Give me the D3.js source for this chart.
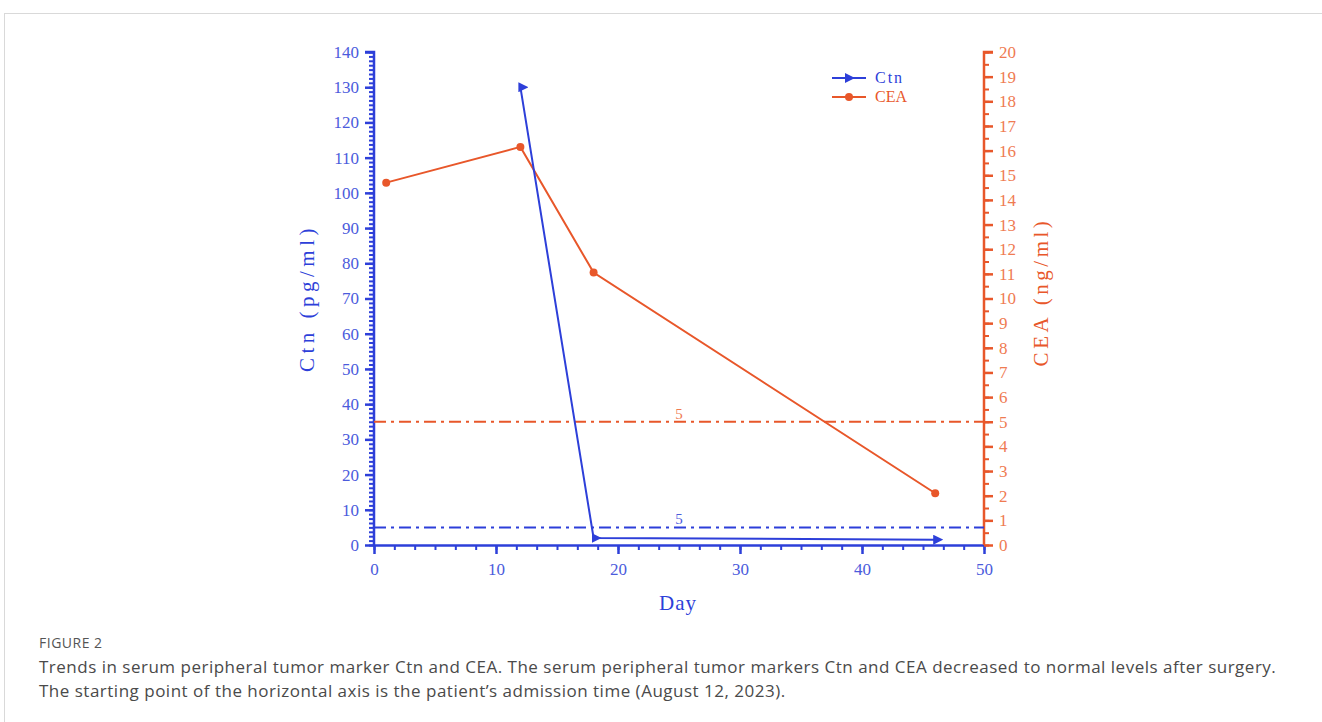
<!DOCTYPE html>
<html>
<head>
<meta charset="utf-8">
<script src="https://cdn.jsdelivr.net/npm/d3@7"></script>
<style>
body{margin:0;background:#fff;}
#frame{position:absolute;left:4px;top:13px;width:1330px;height:720px;border-top:1px solid #d9d9d9;border-left:1px solid #d9d9d9;}
.cap{position:absolute;left:39px;font-family:"Open Sans",sans-serif;color:#4a4a4a;}
</style>
</head>
<body>
<div id="frame"></div>
<div id="canvas-svg" style="position:absolute;left:0;top:0;"></div>
<div class="cap" style="top:633px;font-size:14px;letter-spacing:0.5px;color:#555;">FIGURE 2</div>
<div class="cap" style="top:655px;font-size:17px;letter-spacing:0.5px;line-height:24px;">Trends in serum peripheral tumor marker Ctn and CEA. The serum peripheral tumor markers Ctn and CEA decreased to normal levels after surgery.<br>The starting point of the horizontal axis is the patient’s admission time (August 12, 2023).</div>
<script>
// data
var ctnDays = [12, 18, 46],
    ctnVals = [130, 2, 1.5];
var ceaDays = [1, 12, 18, 46],
    ceaVals = [14.7, 16.15, 11.05, 2.1];
var refCtn = 5, refCea = 5;
var xTicks = [0, 10, 20, 30, 40, 50];
var leftTicks = d3.range(0, 141, 10);
var rightTicks = d3.range(0, 21, 1);

var blue = "#2d3fd9", blueTxt = "#4b5bdc", orange = "#e8572a", orangeTxt = "#ef7b52";
var serif = "'Liberation Serif','DejaVu Serif',serif";

var margin = {top: 52, left: 374},
    width = 610, height = 493;

var svg = d3.select("#canvas-svg").append("svg")
    .attr("width", 1322).attr("height", 625);
var g = svg.append("g").attr("transform", "translate(" + margin.left + "," + margin.top + ")");

var x = d3.scaleLinear().domain([0, 50]).range([0, width]);
var yL = d3.scaleLinear().domain([0, 140]).range([height, 0]);
var yR = d3.scaleLinear().domain([0, 20]).range([height, 0]);

svg.append("defs").append("marker")
  .attr("id", "tri")
  .attr("viewBox", "0 0 10 10")
  .attr("refX", 2).attr("refY", 5)
  .attr("markerWidth", 10).attr("markerHeight", 10)
  .attr("markerUnits", "userSpaceOnUse")
  .attr("orient", 0)
  .append("path").attr("d", "M0,0 L10,5 L0,10 Z").style("fill", blue);

// minor ticks
g.append("g").attr("transform", "translate(0," + height + ")")
  .call(d3.axisBottom(x).tickValues(d3.range(0, 50.01, 10 / 6)).tickSize(5).tickFormat(""))
  .call(function(a){ a.select(".domain").remove(); a.selectAll("line").style("stroke", blue).style("stroke-width", 2); });
g.append("g")
  .call(d3.axisLeft(yL).tickValues(d3.range(0, 140.01, 1.25)).tickSize(5).tickFormat(""))
  .call(function(a){ a.select(".domain").remove(); a.selectAll("line").style("stroke", blue).style("stroke-width", 2); });
g.append("g").attr("transform", "translate(" + width + ",0)")
  .call(d3.axisRight(yR).tickValues(d3.range(0, 20.01, 0.5)).tickSize(5).tickFormat(""))
  .call(function(a){ a.select(".domain").remove(); a.selectAll("line").style("stroke", orange).style("stroke-width", 2); });

// major axes
var xa = g.append("g").attr("transform", "translate(0," + height + ")")
  .call(d3.axisBottom(x).tickValues(xTicks).tickSize(9).tickSizeOuter(0).tickPadding(9));
var la = g.append("g")
  .call(d3.axisLeft(yL).tickValues(leftTicks).tickSize(9).tickSizeOuter(0).tickPadding(6));
var ra = g.append("g").attr("transform", "translate(" + width + ",0)")
  .call(d3.axisRight(yR).tickValues(rightTicks).tickSize(9).tickSizeOuter(0).tickPadding(6));
[[xa, blue, blueTxt], [la, blue, blueTxt], [ra, orange, orangeTxt]].forEach(function(d){
  d[0].select(".domain").style("stroke", d[1]).style("stroke-width", 2.5);
  d[0].selectAll("line").style("stroke", d[1]).style("stroke-width", 2.5);
  d[0].selectAll("text").style("fill", d[2]).style("font-family", serif).style("font-size", "17px");
});
ra.select(".domain").attr("d", "M9,0H0V" + height);
la.select(".domain").attr("d", "M-9,0H0V" + height);

// reference lines
g.append("line").attr("x1", 0).attr("x2", width)
  .attr("y1", yL(refCtn)).attr("y2", yL(refCtn))
  .style("stroke", blue).style("stroke-width", 2).style("stroke-dasharray", "12,5,3,5");
g.append("text").attr("x", x(25)).attr("y", yL(refCtn) - 3).attr("text-anchor", "middle")
  .style("fill", blueTxt).style("font-family", serif).style("font-size", "15px").text(refCtn);
g.append("line").attr("x1", 0).attr("x2", width)
  .attr("y1", yR(refCea)).attr("y2", yR(refCea))
  .style("stroke", orange).style("stroke-width", 2).style("stroke-dasharray", "12,5,3,5");
g.append("text").attr("x", x(25)).attr("y", yR(refCea) - 3).attr("text-anchor", "middle")
  .style("fill", orangeTxt).style("font-family", serif).style("font-size", "15px").text(refCea);

// CEA series
var ceaPts = ceaDays.map(function(d, i){ return [x(d), yR(ceaVals[i])]; });
g.append("path").attr("d", d3.line()(ceaPts))
  .style("fill", "none").style("stroke", orange).style("stroke-width", 2);
g.selectAll(".cea").data(ceaPts).enter().append("circle")
  .attr("cx", function(d){ return d[0]; }).attr("cy", function(d){ return d[1]; })
  .attr("r", 4).style("fill", orange);

// Ctn series
var ctnPts = ctnDays.map(function(d, i){ return [x(d), yL(ctnVals[i])]; });
g.append("path").attr("d", d3.line()(ctnPts))
  .style("fill", "none").style("stroke", blue).style("stroke-width", 2)
  .attr("marker-start", "url(#tri)").attr("marker-mid", "url(#tri)").attr("marker-end", "url(#tri)");

// axis titles
svg.append("text").attr("x", 678).attr("y", 610).attr("text-anchor", "middle")
  .style("fill", blue).style("font-family", serif).style("font-size", "21px")
  .style("letter-spacing", "1px").text("Day");
svg.append("text").attr("transform", "translate(314,298) rotate(-90)").attr("text-anchor", "middle")
  .style("fill", blue).style("font-family", serif).style("font-size", "21px")
  .style("letter-spacing", "4.5px").text("Ctn\u00a0(pg/ml)");
svg.append("text").attr("transform", "translate(1048,292) rotate(-90)").attr("text-anchor", "middle")
  .style("fill", orange).style("font-family", serif).style("font-size", "21px")
  .style("letter-spacing", "3.5px").text("CEA\u00a0(ng/ml)");

// legend
var legend = [["Ctn", blue, "tri"], ["CEA", orange, "dot"]];
legend.forEach(function(d, i){
  var ly = 78 + i * 19;
  svg.append("line").attr("x1", 832).attr("x2", 866).attr("y1", ly).attr("y2", ly)
    .style("stroke", d[1]).style("stroke-width", 2);
  if (d[2] == "tri") {
    svg.append("path").attr("d", "M845," + (ly - 5) + " L855," + ly + " L845," + (ly + 5) + " Z").style("fill", d[1]);
  } else {
    svg.append("circle").attr("cx", 849).attr("cy", ly).attr("r", 4).style("fill", d[1]);
  }
  svg.append("text").attr("x", 875).attr("y", ly + 5)
    .style("fill", d[1]).style("font-family", serif).style("font-size", "16px")
    .style("letter-spacing", d[0] == "Ctn" ? "2px" : "0px").text(d[0]);
});
</script>
</body>
</html>
